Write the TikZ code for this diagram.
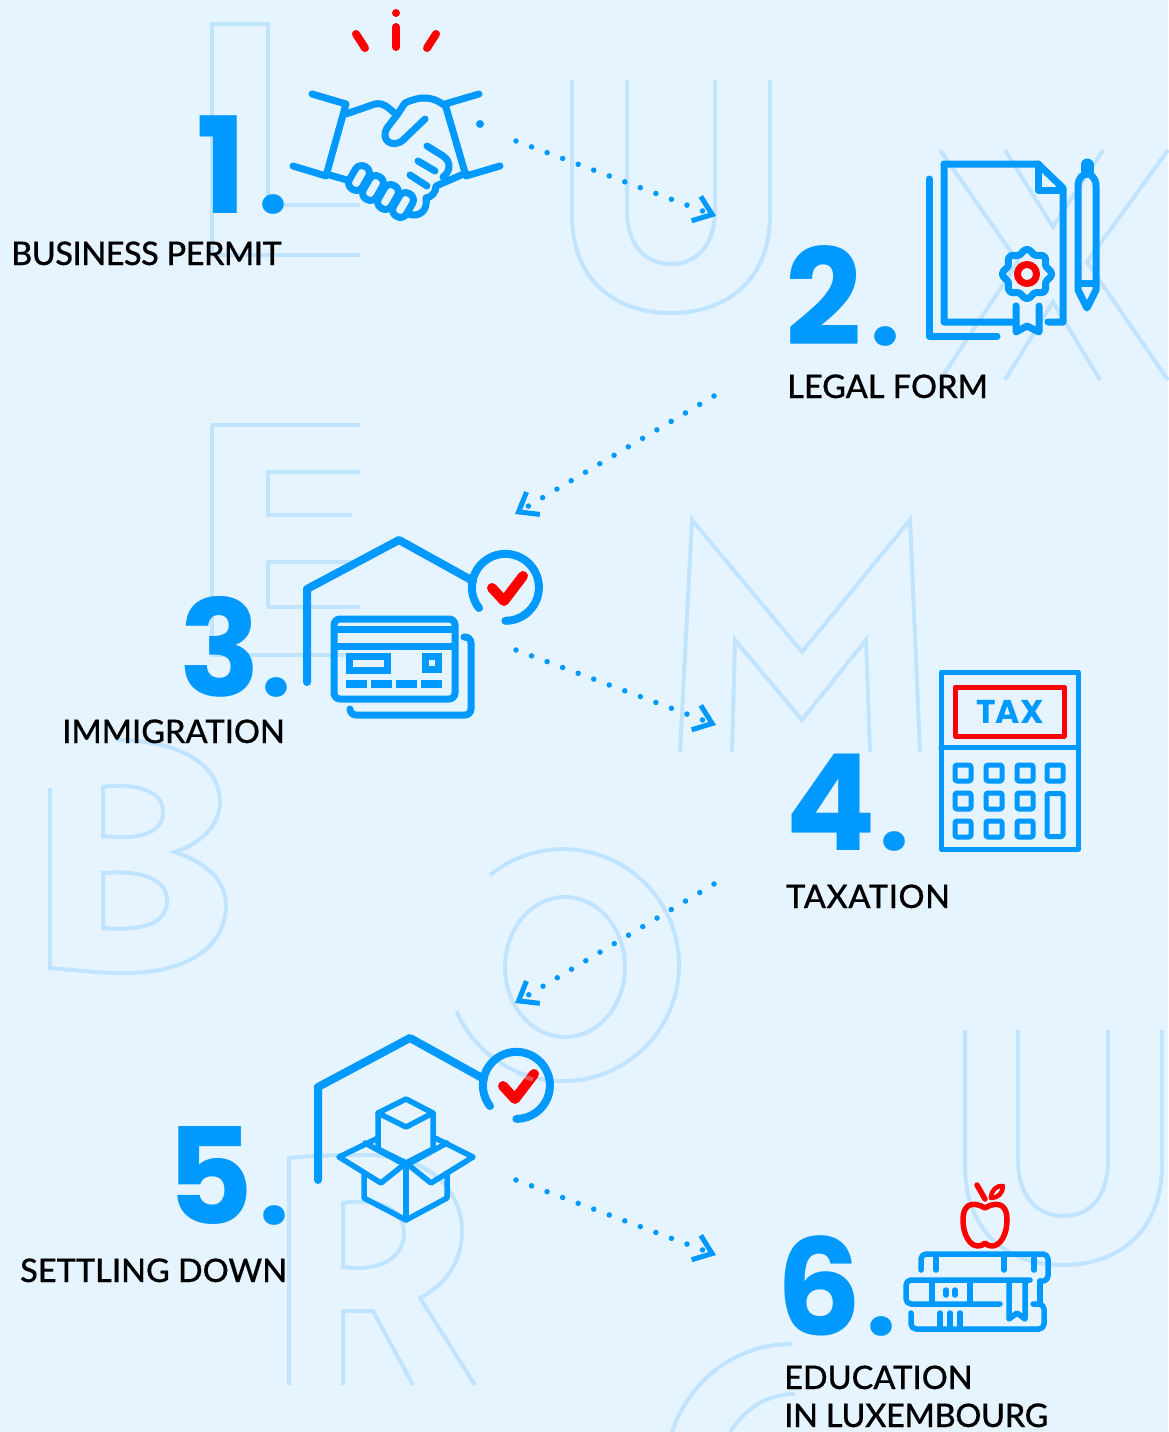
\documentclass[tikz,border=0pt]{standalone}
\usepackage{fontspec}
\usetikzlibrary{arrows.meta}
\setmainfont{Lato Medium}[FakeBold=0.35]
\newfontfamily\numfont{Poppins}
\definecolor{pagebg}{HTML}{E6F4FF}
\definecolor{iconblue}{HTML}{0099FF}
\definecolor{letterblue}{HTML}{C0E4FF}
\newcommand{\stepnum}[2]{\makebox[#2pt][l]{#1}{\fontsize{106}{106}\selectfont.}}
\tikzset{
    letterline/.style={draw=letterblue, line width=4pt, line join=miter},
    icon/.style={draw=iconblue, line width=7pt, line cap=round, line join=round},
    redicon/.style={draw=red, line width=7pt, line cap=round, line join=round},
    bignum/.style={anchor=base west, inner sep=0pt, text=iconblue, font=\numfont\bfseries\fontsize{134}{134}\selectfont},
    steplabel/.style={anchor=base west, inner sep=0pt, text=black, font=\fontsize{32.5}{37}\selectfont},
    dotarrow/.style={draw=iconblue, line width=5.5pt, line cap=round, dash pattern=on 0pt off 16.6pt,
        -{Straight Barb[length=17pt,width=26pt,line width=5pt,line cap=butt]}}
}

\begin{document}
\begin{tikzpicture}[yscale=-1, x=1pt, y=1pt]
    \fill[pagebg] (0,0) rectangle (1168,1432);
    \useasboundingbox (0,0) rectangle (1168,1432);

    % Big letters behind everything
    % L
    \draw[letterline] (360,205) -- (268,205) -- (268,24) -- (212,24) -- (212,255) -- (360,255);
    % U
    \draw[letterline] (572,80) -- (572,215) .. controls (572,280) and (615,313) .. (671,313)
        .. controls (727,313) and (770,280) .. (770,215) -- (770,80);
    \draw[letterline] (627,80) -- (627,210) .. controls (627,245) and (645,264) .. (671,264)
        .. controls (697,264) and (715,245) .. (715,210) -- (715,80);
    % X
    \draw[letterline] (940,150) -- (1018,262) -- (940,380);
    \draw[letterline] (1005,150) -- (1053,227) -- (1103,150);
    \draw[letterline] (1168,150) -- (1087,262) -- (1168,380);
    \draw[letterline] (1005,380) -- (1053,302) -- (1100,380);
    % E
    \draw[letterline] (360,425) -- (212,425) -- (212,655) -- (360,655);
    \draw[letterline] (360,472) -- (268,472) -- (268,515) -- (352,515);
    \draw[letterline] (352,562) -- (268,562) -- (268,607) -- (360,607);
    % M
    \draw[letterline] (680,752) -- (692,520) -- (802,652) -- (910,520) -- (920,752);
    \draw[letterline] (732,752) -- (735,640) -- (802,720) -- (866,640) -- (870,752);
    % B
    \draw[letterline] (50,788) -- (50,968) .. controls (85,971) and (100,973) .. (125,973)
        .. controls (190,973) and (226,945) .. (226,905) .. controls (226,880) and (205,862) .. (175,852)
        .. controls (205,842) and (220,822) .. (220,802) .. controls (220,765) and (180,740) .. (116,740);
    \draw[letterline] (103,787) .. controls (135,783) and (163,790) .. (163,812)
        .. controls (163,835) and (135,840) .. (103,836) -- cycle;
    \draw[letterline] (103,873) .. controls (140,870) and (167,878) .. (167,901)
        .. controls (167,925) and (140,931) .. (103,928) -- cycle;
    % O
    \draw[letterline] (490,875) arc[start angle=231, end angle=516.5, radius=116pt];
    \draw[letterline] (565,967) ellipse[x radius=60pt, y radius=70pt];
    % R
    \draw[letterline] (289,1385) -- (289,1158) .. controls (320,1155) and (345,1155) .. (365,1155)
        .. controls (430,1155) and (462,1190) .. (462,1232) .. controls (462,1262) and (445,1285) .. (420,1298)
        -- (475,1385);
    \draw[letterline] (343,1385) -- (343,1311) -- (373,1311) -- (413,1385);
    \draw[letterline] (343,1203) .. controls (385,1197) and (404,1212) .. (404,1233)
        .. controls (404,1258) and (380,1272) .. (343,1267) -- cycle;
    % U again
    \draw[letterline] (965,1030) -- (965,1165) .. controls (965,1230) and (1005,1265) .. (1063,1265)
        .. controls (1120,1265) and (1162,1230) .. (1162,1165) -- (1162,1030);
    \draw[letterline] (1018,1030) -- (1018,1160) .. controls (1018,1197) and (1038,1216) .. (1063,1216)
        .. controls (1090,1216) and (1108,1197) .. (1108,1160) -- (1108,1030);
    % C
    \draw[letterline] (672,1432) .. controls (690,1380) and (735,1344) .. (792,1344);
    \draw[letterline] (730,1432) .. controls (745,1410) and (765,1394) .. (795,1394);

    % Numbers
    \node[bignum] (numA) at (196,213) {\stepnum{1}{62}};
    \node[bignum] (numB) at (785,345) {\stepnum{2}{85}};
    \node[bignum] (numC) at (179,696) {\stepnum{3}{82}};
    \node[bignum] (numD) at (785,850) {\stepnum{4}{94}};
    \node[bignum] (numE) at (166,1224) {\stepnum{5}{93}};
    \node[bignum] (numF) at (776,1335) {\stepnum{6}{90}};

    % Labels
    \node[steplabel] (labA) at (11,265) {\addfontfeature{LetterSpace=-1.5}BUSINESS PERMIT};
    \node[steplabel] (labB) at (787,398) {LEGAL FORM};
    \node[steplabel] (labC) at (62,743) {IMMIGRATION};
    \node[steplabel] (labD) at (786,908) {\addfontfeature{LetterSpace=1.8}TAXATION};
    \node[steplabel] (labE) at (20,1282) {SETTLING DOWN};
    \node[steplabel] (labF) at (784,1389) {EDUCATION};
    \node[steplabel] (labG) at (784,1427) {\addfontfeature{LetterSpace=-1}IN LUXEMBOURG};

    % Dotted arrows between the steps
    \coordinate (fromA) at (516,141);
    \coordinate (toA) at (716,216);
    \coordinate (fromB) at (714,396);
    \coordinate (toB) at (515,514);
    \coordinate (fromC) at (516,650);
    \coordinate (toC) at (716,725);
    \coordinate (fromD) at (714,884);
    \coordinate (toD) at (515,1003);
    \coordinate (fromE) at (516,1180);
    \coordinate (toE) at (716,1255);
    \draw[dotarrow] (fromA) -- (toA);
    \draw[dotarrow] (fromB) -- (toB);
    \draw[dotarrow] (fromC) -- (toC);
    \draw[dotarrow] (fromD) -- (toD);
    \draw[dotarrow] (fromE) -- (toE);

    % Handshake
    \draw[redicon, line width=8pt] (396,27) -- (396,47);
    \fill[red] (396,13) circle (4pt);
    \draw[redicon, line width=8pt] (356,34) -- (365,48);
    \draw[redicon, line width=8pt] (436,34) -- (427,48);
    \fill[iconblue] (480,124) circle (4pt);
    \draw[icon] (312,94) -- (346,104) -- (326,176) -- (293,166);
    \draw[icon] (479,94) -- (445,104) -- (466,176) -- (500,166);
    \draw[icon] (346,114) -- (375,104) .. controls (385,102) and (390,110) .. (397,115);
    \draw[icon] (444,105) .. controls (432,96) and (420,96) .. (405,103) -- (397,115) -- (387,128)
        .. controls (380,140) and (392,148) .. (402,141) -- (425,119);
    \draw[icon] (427,146) -- (443,156) .. controls (452,162) and (450,172) .. (443,177);
    \draw[icon] (418,161) -- (435,171);
    \draw[icon] (410,175) -- (427,186);
    \draw[icon] (466,173) -- (436,186) .. controls (436,192) and (432,197) .. (426,198);
    \draw[icon] (326,174) -- (347,180);
    \draw[icon] (426,198) .. controls (428,210) and (420,218) .. (408,214);
    \foreach \kx/\ky in {359/178, 373/188, 388/197, 403/205} {
        \draw[icon, rounded corners=7pt, rotate around={30:(\kx,\ky)}] (\kx-7.5,\ky-13) rectangle (\kx+7.5,\ky+13);
    }

    % Certificate
    \draw[icon] (1016,322) -- (944,322) -- (944,164) -- (1038,164) -- (1063,188) -- (1063,322) -- (1048,322);
    \draw[icon] (1038,164) -- (1038,190) -- (1063,190);
    \draw[icon] (929,179) -- (929,336) -- (997,336);
    \draw[icon] (1016,306) -- (1016,332) -- (1027,326) -- (1039,332) -- (1039,306);
    \draw[icon] plot[domain=0:360, samples=97, smooth] ({1027+(22.5+2*cos(8*\x))*cos(\x)},{274+(22.5+2*cos(8*\x))*sin(\x)}) -- cycle;
    \draw[redicon] (1027,274) circle (9.5pt);
    \draw[icon, line width=13pt] (1087,165) -- (1087,171);
    \draw[icon] (1078,186) .. controls (1078,178) and (1083,174) .. (1087,174)
        .. controls (1091,174) and (1096,178) .. (1096,186) -- (1096,290) -- (1087,308) -- (1078,290) -- cycle;
    \draw[icon] (1078,283) -- (1096,283);

    % House with a tick, used for steps 3 and 5
    \foreach \sx/\sy in {0/0, 11/498} {
        \begin{scope}[shift={(\sx,\sy)}]
            \draw[icon, line width=8pt] (307,682) -- (307,589) -- (399,540) -- (473,581);
            \draw[icon, line width=8pt] (479,608) arc[start angle=142, end angle=450, radius=33.5pt];
            \draw[redicon, line width=10pt] (492,588) -- (504,601) -- (523,576);
        \end{scope}
    }
    % O runs over the tick
    \draw[letterline, opacity=.35] ([shift={(106:116pt)}]565,968) arc[start angle=106, end angle=115, radius=116pt];

    % Card
    \draw[icon, rounded corners=6pt] (334,619) rectangle (455,699);
    \draw[icon, line cap=butt] (334,629) -- (455,629);
    \draw[icon, line cap=butt] (334,646) -- (455,646);
    \draw[icon, line join=miter, line cap=butt] (349,656) rectangle (387,670);
    \draw[icon, line join=miter, line cap=butt] (425.5,656.5) rectangle (438.5,669.5);
    \foreach \bx in {346, 371, 396, 421} {
        \fill[iconblue] (\bx,680) rectangle (\bx+21,688);
    }
    \draw[icon, rounded corners=6pt] (464,637) -| (471,715) -| (350,709);

    % Calculator
    \draw[icon, line width=5pt] (941,672) rectangle (1078,849);
    \draw[icon, line width=5pt] (941,747) -- (1078,747);
    \draw[redicon, line width=5pt] (955,687) rectangle (1064,736);
    \node[inner sep=0pt, text=iconblue, font=\numfont\bfseries\fontsize{33}{33}\selectfont] (taxtext) at (1010,712) {TAX};
    \foreach \kx in {963, 994, 1025} {
        \foreach \ky in {773, 801, 829} {
            \draw[icon, line width=5pt, rounded corners=1.5pt] (\kx-8,\ky-8) rectangle (\kx+8,\ky+8);
        }
    }
    \draw[icon, line width=5pt, rounded corners=1.5pt] (1047,765) rectangle (1063,781);
    \draw[icon, line width=5pt, rounded corners=1.5pt] (1047,793.5) rectangle (1063,836.5);

    % Boxes
    \begin{scope}[icon/.append style={line width=5.5pt}]
        \draw[icon] (406,1099) -- (433,1113) -- (406,1127) -- (378,1113) -- cycle;
        \draw[icon] (378,1113) -- (378,1149) -- (406,1163) -- (433,1149) -- (433,1113);
        \draw[icon] (378,1138) -- (339,1157) -- (381,1183) -- (406,1163) -- (431,1183) -- (473,1157) -- (435,1138);
        \draw[icon] (365,1143) -- (400,1162);
        \draw[icon] (447,1143) -- (412,1162);
        \draw[icon] (364,1173) -- (364,1198) -- (406,1220) -- (447,1198) -- (447,1173);
        \draw[icon] (406,1163) -- (406,1220);
    \end{scope}

    % Apple and books
    \begin{scope}[icon/.append style={line width=5.5pt}, redicon/.append style={line width=5.5pt}]
        \draw[redicon] (985,1208) .. controls (977,1203) and (963,1200) .. (963,1220)
            .. controls (963,1235) and (970,1246) .. (978,1246) .. controls (981,1246) and (983,1245) .. (985,1243)
            .. controls (987,1245) and (989,1246) .. (992,1246) .. controls (1000,1246) and (1007,1235) .. (1007,1220)
            .. controls (1007,1200) and (993,1203) .. (985,1208) -- cycle;
        \draw[redicon] (977,1185) -- (985,1199);
        \draw[redicon, line width=4.5pt] (991,1198) .. controls (991,1190) and (997,1185) .. (1003,1186)
            .. controls (1003,1193) and (998,1198) .. (991,1198) -- cycle;
        \draw[icon, rounded corners=5pt] (921,1270) -- (921,1254) -- (1048,1254) -- (1048,1281) -- (1040,1281);
        \draw[icon] (936,1258) -- (936,1270);
        \draw[icon] (1004,1258) -- (1004,1270);
        \draw[icon] (1034,1258) -- (1034,1270);
        \draw[icon, rounded corners=5pt] (1030,1280) -- (906,1280) -- (906,1304) -- (1000,1304);
        \draw[icon, line cap=butt] (932,1280) -- (932,1304);
        \draw[icon, line cap=butt] (970,1280) -- (970,1304);
        \draw[icon] (946,1290) -- (946,1295);
        \draw[icon] (955,1290) -- (955,1295);
        \draw[icon] (1009,1282) -- (1009,1319) -- (1017,1313) -- (1025,1319) -- (1025,1282);
        \draw[icon] (1040,1281) -- (1040,1304);
        \draw[icon, rounded corners=5pt] (911,1313) -- (911,1329) -- (1044,1329) -- (1044,1304) -- (1033,1304);
        \draw[icon] (940,1313) -- (940,1329);
        \draw[icon] (950,1313) -- (950,1329);
        \draw[icon] (960,1313) -- (960,1329);
    \end{scope}
\end{tikzpicture}
\end{document}
